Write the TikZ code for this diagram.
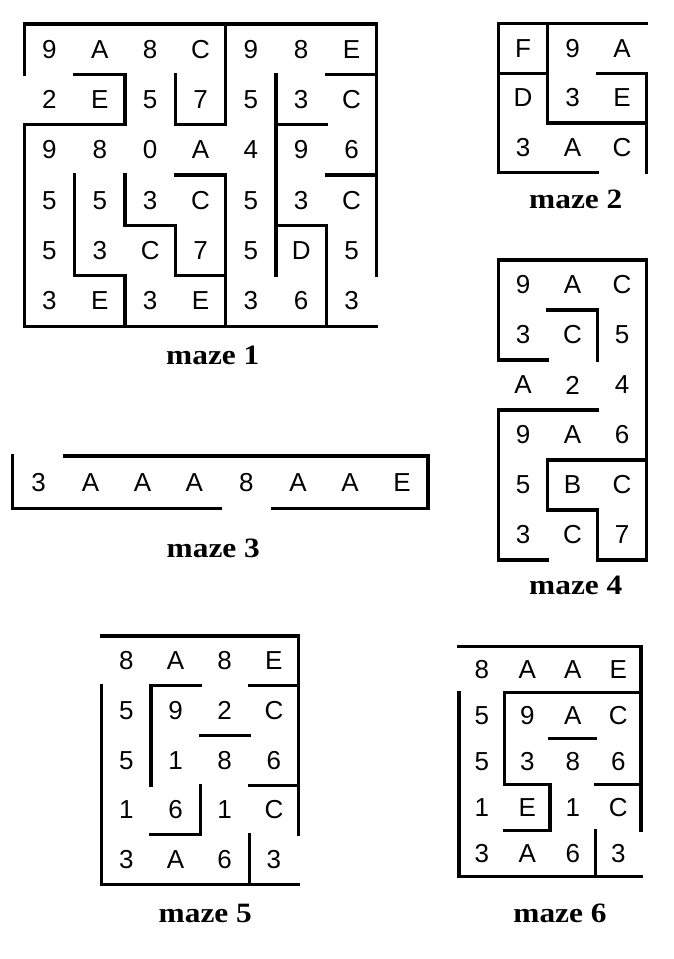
\documentclass[tikz,border=0pt]{standalone}
\usepackage{fontspec}
\usepackage{graphicx}
\setmainfont{Liberation Serif}
\newfontfamily\digitfont{Liberation Sans}
\tikzset{
  wall/.style={line width=3.2pt, line cap=rect, black},
  digit/.style={inner sep=0pt, font=\digitfont\fontsize{26}{26}\selectfont},
  lbl/.style={inner sep=0pt, anchor=base, font=\bfseries\fontsize{28}{30}\selectfont}
}
\newcommand\drawmaze[6]{%
  \foreach \row [count=\r from 0] in {#6} {
    \foreach \c [count=\k from 0] in \row {
      \edef\v{\number"\c\space}
      \pgfmathtruncatemacro\bN{mod(floor(\v/8),2)}
      \pgfmathtruncatemacro\bE{mod(floor(\v/4),2)}
      \pgfmathtruncatemacro\bS{mod(floor(\v/2),2)}
      \pgfmathtruncatemacro\bW{mod(\v,2)}
      \pgfmathsetmacro\xa{#2+\k*#4}
      \pgfmathsetmacro\xb{#2+(\k+1)*#4}
      \pgfmathsetmacro\ya{#3+\r*#5}
      \pgfmathsetmacro\yb{#3+(\r+1)*#5}
      \ifnum\bN=1 \draw[wall] (\xa,\ya) -- (\xb,\ya); \fi
      \ifnum\bE=1 \draw[wall] (\xb,\ya) -- (\xb,\yb); \fi
      \ifnum\bS=1 \draw[wall] (\xa,\yb) -- (\xb,\yb); \fi
      \ifnum\bW=1 \draw[wall] (\xa,\ya) -- (\xa,\yb); \fi
      \node[digit] (#1-\r-\k) at ({(\xa+\xb)/2},{(\ya+\yb)/2}) {\c};
    }
  }%
}
\begin{document}
\begin{tikzpicture}[x=1pt,y=-1pt]
\useasboundingbox[fill=white] (0,0) rectangle (674,959);
% maze 1
\drawmaze{ma}{24.3}{24}{50.35}{50.35}{{9,A,8,C,9,8,E},{2,E,5,7,5,3,C},{9,8,0,A,4,9,6},{5,5,3,C,5,3,C},{5,3,C,7,5,D,5},{3,E,3,E,3,6,3}}
% maze 2
\drawmaze{mb}{498.3}{23.3}{49.5}{49.8}{{F,9,A},{D,3,E},{3,A,C}}
% maze 3
\drawmaze{mc}{12.7}{456}{51.9}{52.2}{{3,A,A,A,8,A,A,E}}
% maze 4
\drawmaze{md}{498.3}{260}{49.5}{50}{{9,A,C},{3,C,5},{A,2,4},{9,A,6},{5,B,C},{3,C,7}}
% maze 5
\drawmaze{me}{101.7}{636}{49.2}{49.7}{{8,A,8,E},{5,9,2,C},{5,1,8,6},{1,6,1,C},{3,A,6,3}}
% maze 6
\drawmaze{mf}{459}{646.7}{45.5}{46}{{8,A,A,E},{5,9,A,C},{5,3,8,6},{1,E,1,C},{3,A,6,3}}
% labels
\node[lbl] (lab1) at (212.8,364) {\scalebox{1.12}[1]{maze 1}};
\node[lbl] (lab2) at (575.8,208) {\scalebox{1.12}[1]{maze 2}};
\node[lbl] (lab3) at (213.3,557.5) {\scalebox{1.12}[1]{maze 3}};
\node[lbl] (lab4) at (575.8,594) {\scalebox{1.12}[1]{maze 4}};
\node[lbl] (lab5) at (205.3,922) {\scalebox{1.12}[1]{maze 5}};
\node[lbl] (lab6) at (560,922) {\scalebox{1.12}[1]{maze 6}};
\end{tikzpicture}
\end{document}
